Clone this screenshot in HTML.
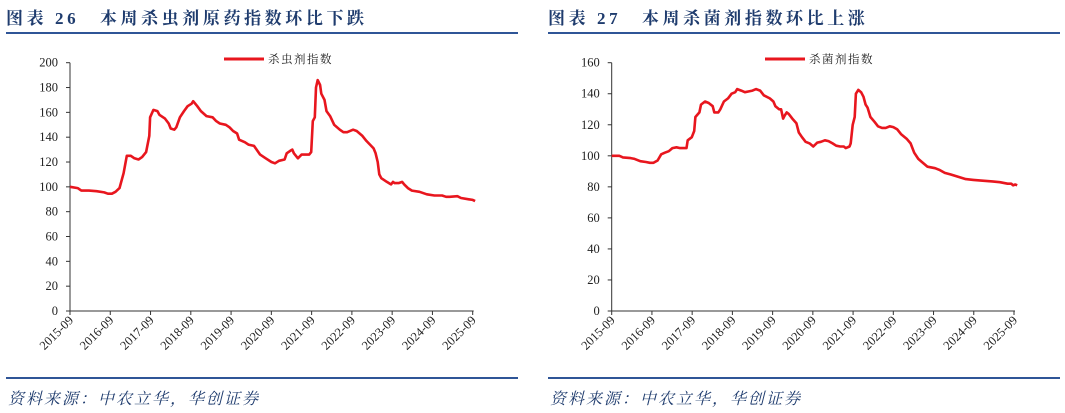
<!DOCTYPE html>
<html><head><meta charset="utf-8"><style>
html,body{margin:0;padding:0;background:#fff;width:1065px;height:413px;overflow:hidden}
svg{display:block}
.t{font-family:"Liberation Serif","Noto Serif CJK SC",serif}
</style></head><body>
<svg id="s" width="1065" height="413" xmlns="http://www.w3.org/2000/svg">
<text class="t" x="6" y="24" font-size="17" font-weight="bold" fill="#1f3c6e" letter-spacing="3.6">图表 26　本周杀虫剂原药指数环比下跌</text>
<text class="t" x="548" y="24" font-size="17" font-weight="bold" fill="#1f3c6e" letter-spacing="3.6">图表 27　本周杀菌剂指数环比上涨</text>
<rect x="6" y="32" width="512" height="2" fill="#2f5597"/>
<rect x="548" y="32" width="512" height="2" fill="#2f5597"/>
<rect x="6" y="377" width="512" height="2" fill="#2f5597"/>
<rect x="548" y="377" width="512" height="2" fill="#2f5597"/>
<text class="t" x="8" y="404" font-size="16" font-style="italic" fill="#1f3c6e" letter-spacing="2">资料来源：中农立华，华创证券</text>
<text class="t" x="550" y="404" font-size="16" font-style="italic" fill="#1f3c6e" letter-spacing="2">资料来源：中农立华，华创证券</text>
<g id="c1"></g><g id="c2"></g>
</svg>
<script>
const xLabels=["2015-09","2016-09","2017-09","2018-09","2019-09","2020-09","2021-09","2022-09","2023-09","2024-09","2025-09"];
const insectT=[0,0.19,0.28,0.47,0.66,0.85,0.94,1.04,1.13,1.23,1.33,1.37,1.41,1.51,1.60,1.70,1.79,1.89,1.97,1.99,2.07,2.17,2.22,2.36,2.45,2.50,2.59,2.64,2.73,2.83,2.92,3.02,3.06,3.16,3.25,3.39,3.54,3.63,3.72,3.87,3.96,4.05,4.15,4.20,4.34,4.43,4.57,4.72,4.86,5.00,5.09,5.19,5.33,5.38,5.47,5.52,5.56,5.66,5.75,5.85,5.94,5.99,6.03,6.08,6.11,6.15,6.21,6.24,6.32,6.37,6.46,6.56,6.70,6.79,6.88,7.03,7.12,7.26,7.36,7.45,7.54,7.59,7.64,7.68,7.73,7.87,7.97,8.02,8.06,8.16,8.25,8.30,8.39,8.49,8.68,8.86,9.05,9.24,9.34,9.43,9.62,9.71,9.90,10.00,10.06];
const insectV=[100,99,97,97,96.5,95.5,94.5,94.5,96,99,111,118,125,125,123,122,124,128,141,156,162,161,158,155,151,147,146,148,156,161,165,167,169,165,161,157,156,153,151,150,148,145,143,138,136,134,133,126,123,120,119,121,122,127,129,130,127,123,126,126,126,128,153,156,180,186,182,175,170,161,157,150,146,144,144,146,145,141,137,134,131,127,120,110,107,104,102,104,103,103,104,102,99,97,96,94,93,93,92,92,92.5,91,90,89.5,88.5];
const fungT=[0,0.19,0.28,0.47,0.57,0.71,0.85,0.95,1.04,1.14,1.23,1.32,1.42,1.51,1.61,1.70,1.80,1.86,1.89,1.99,2.05,2.08,2.18,2.22,2.32,2.41,2.51,2.55,2.65,2.70,2.79,2.89,2.98,3.07,3.12,3.22,3.31,3.41,3.50,3.59,3.69,3.78,3.93,4.02,4.07,4.16,4.21,4.26,4.30,4.35,4.40,4.49,4.59,4.65,4.73,4.82,4.92,5.01,5.11,5.20,5.30,5.39,5.49,5.58,5.68,5.77,5.82,5.91,5.94,5.99,6.04,6.07,6.13,6.20,6.26,6.31,6.36,6.43,6.53,6.62,6.72,6.81,6.91,7.00,7.10,7.19,7.33,7.43,7.52,7.62,7.71,7.85,8.04,8.14,8.28,8.42,8.61,8.80,8.99,9.18,9.46,9.65,9.84,9.93,9.98,10.03,10.08];
const fungV=[100,100,99,98.5,98,96.5,96,95.5,95.5,97,101,102,103,105,105.5,105,105,105,110,112,116,125,128,133,135,134,132,128,128,130,135,137,140,141,143,142,141,141.5,142,143,142,139,137,135,132,130,130,124,126,128,127,124,121,115,112,109,108,106,108.5,109,110,109.5,108,106.5,106,106,105,106,108,120,125,140,142.5,141,138,133,131,125,122,119,118,118,119,118.5,117,114,111,108,102,98,96,93,92,91,89,88,86.5,85,84.5,84,83.5,83,82,82,81,81.5,81];
const yTicks1=[0,20,40,60,80,100,120,140,160,180,200];
const yTicks2=[0,20,40,60,80,100,120,140,160];
const NS="http://www.w3.org/2000/svg";
function mk(tag,attrs,parent){const e=document.createElementNS(NS,tag);for(const k in attrs)e.setAttribute(k,attrs[k]);parent.appendChild(e);return e;}
function chart(g,cfg){
  const x=t=>cfg.x0+t*cfg.step, y=v=>cfg.y0-(v/cfg.ymax)*(cfg.y0-cfg.y1);
  const ax=mk('path',{d:`M${cfg.x0},${cfg.y1}V${cfg.y0}H${x(10)+1}`,stroke:'#333',fill:'none','stroke-width':1},g);
  
  
  cfg.yt.forEach(v=>{
    const tk=mk('line',{x1:cfg.x0-4,x2:cfg.x0,y1:y(v),y2:y(v),stroke:'#333'},g);
    
    
    const tx=mk('text',{x:cfg.x0-12,y:y(v)+4,'text-anchor':'end','font-size':12.5,class:'t',fill:'#222'},g);
    tx.textContent=v;
    
    
  });
  xLabels.forEach((l,i)=>{
    const xx=x(i);
    const tk=mk('line',{x1:xx,x2:xx,y1:cfg.y0,y2:cfg.y0+4,stroke:'#333'},g);
    
    
    const tx=mk('text',{x:0,y:0,'text-anchor':'end','font-size':12.5,class:'t',fill:'#222',transform:`translate(${xx+4},${cfg.y0+10}) rotate(-45)`},g);
    tx.textContent=l;
    
    
  });
  const d=cfg.T.map((t,i)=>(i?'L':'M')+x(t).toFixed(1)+','+y(cfg.V[i]).toFixed(1)).join('');
  const ln=mk('path',{d:d,stroke:'#e8161e',fill:'none','stroke-width':2.6,'stroke-linejoin':'round'},g);
  
  
  const lg=mk('line',{x1:cfg.lx,x2:cfg.lx+40,y1:59,y2:59,stroke:'#e8161e','stroke-width':3},g);
  
  
  const lt=mk('text',{x:cfg.lx+44,y:63,'font-size':11.5,class:'t',fill:'#222','letter-spacing':'1.5'},g);
  lt.textContent=cfg.name;
  
  
}
chart(document.getElementById('c1'),{p:'insecticide',x0:70,step:40.27,y0:311,y1:62.7,ymax:200,yt:yTicks1,T:insectT,V:insectV,lx:224,name:'杀虫剂指数'});
chart(document.getElementById('c2'),{p:'fungicide',x0:611.7,step:40.23,y0:311,y1:62.7,ymax:160,yt:yTicks2,T:fungT,V:fungV,lx:765,name:'杀菌剂指数'});
</script>
</body></html>
